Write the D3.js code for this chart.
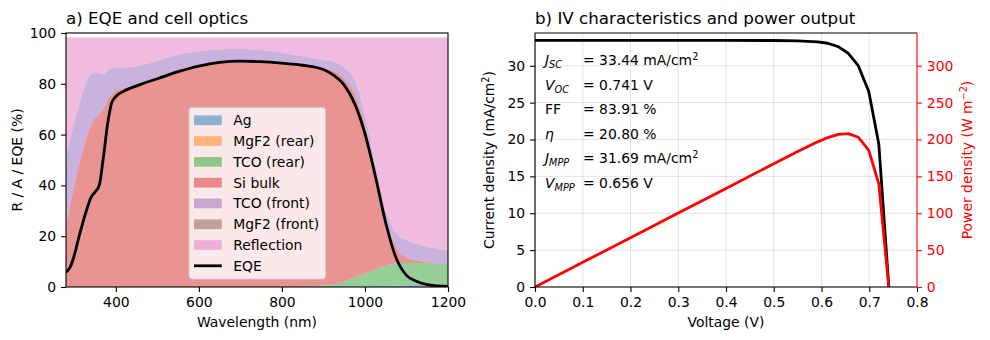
<!DOCTYPE html>
<html>
<head>
<meta charset="utf-8">
<script src="https://cdn.jsdelivr.net/npm/d3@7"></script>
<style>
  body { margin: 0; background: #fff; }
  svg { font-family: "DejaVu Sans", sans-serif; }
</style>
</head>
<body>
<svg id="chart" width="990" height="340"></svg>
<script>
// --- Panel a: absorption per layer (%) ---
const wavelength = [280, 290, 300, 310, 320, 330, 340, 350, 360, 370, 380, 390, 400, 420, 440, 460,
  500, 550, 600, 650, 700, 750, 800, 850, 900, 925, 950, 975, 1000, 1025, 1050, 1075, 1100, 1125, 1150, 1175, 1200];
const ag = [0, 0, 0, 0, 0, 0, 0, 0, 0, 0, 0, 0, 0, 0, 0, 0,
  0, 0, 0, 0, 0, 0, 0, 0, 0.05, 0.1, 0.15, 0.2, 0.3, 0.4, 0.5, 0.6, 0.7, 0.8, 0.8, 0.9, 0.9];
const mgf2Rear = [0, 0, 0, 0, 0, 0, 0, 0, 0, 0, 0, 0, 0, 0, 0, 0,
  0, 0, 0, 0, 0, 0, 0, 0, 0, 0, 0, 0, 0, 0, 0, 0, 0, 0, 0, 0, 0];
const tcoRear = [0, 0, 0, 0, 0, 0, 0, 0, 0, 0, 0, 0, 0, 0, 0, 0,
  0, 0, 0, 0, 0, 0, 0.02, 0.1, 0.55, 1.1, 2.15, 3.6, 5.0, 6.6, 7.9, 8.7, 8.7, 8.6, 8.5, 8.3, 8.2];
const siBulk = [23.6, 32, 40, 47, 53.5, 59, 63.5, 66.5, 68, 70, 73.5, 76, 77.3, 78.3, 79.2, 80.3,
  82.3, 85, 87.1, 88.5, 89, 88.8, 88.2, 87.4, 85.6, 83.8, 79.7, 72.2, 58.2, 38.5, 19.1, 6.2, 2.1, 1.0, 0.4, 0.1, 0];
const tcoFront = [27.4, 26, 25, 23.5, 23, 22, 20, 17.8, 16.1, 13.7, 11.7, 10.1, 9, 8.1, 7.4, 7,
  6.7, 6.5, 5.7, 5.1, 4.8, 4.4, 4.0, 3.3, 3.1, 3.7, 4.3, 5.5, 4.1, 2.3, 2.7, 5.7, 7.0, 6.5, 6.1, 5.7, 5.3];
const mgf2Front = [0, 0, 0, 0, 0, 0, 0, 0, 0, 0, 0, 0, 0, 0, 0, 0,
  0, 0, 0, 0, 0, 0, 0, 0, 0, 0, 0, 0, 0, 0, 0, 0, 0, 0, 0, 0, 0];
const reflection = [47.2, 40.2, 33.2, 27.7, 21.7, 17.2, 14.7, 13.9, 14.1, 14.5, 13, 12.1, 11.9, 11.8, 11.6, 10.9,
  9.2, 6.7, 5.4, 4.6, 4.4, 5, 6, 7.4, 8.9, 9.5, 11.9, 16.7, 30.6, 50.4, 68, 77, 79.7, 81.3, 82.4, 83.2, 83.8];
const eqe = [5.9, 7.8, 12.5, 19, 25, 30.5, 35.2, 37.4, 40, 51, 64, 72.5, 75, 77.2, 78.6, 79.8,
  82, 84.8, 87, 88.4, 88.9, 88.7, 88.1, 87.3, 85.6, 83.3, 79.5, 72.3, 60.4, 43.7, 25.3, 11.4, 4.6, 2.2, 0.9, 0.4, 0.2];

const layerNames = ["Ag", "MgF2 (rear)", "TCO (rear)", "Si bulk", "TCO (front)", "MgF2 (front)", "Reflection"];
const layerColors = ["#1f77b4", "#ff7f0e", "#2ca02c", "#d62728", "#9467bd", "#8c564b", "#e377c2"];
const wavelengthTicks = [400, 600, 800, 1000, 1200];
const percentTicks = [0, 20, 40, 60, 80, 100];

// --- Panel b: IV curve ---
const voltage = [0, 0.1, 0.2, 0.3, 0.4, 0.5, 0.55, 0.592, 0.613, 0.635, 0.656, 0.677, 0.699, 0.720, 0.741];
const currentDensity = [33.44, 33.44, 33.44, 33.44, 33.43, 33.42, 33.38, 33.25, 33.05, 32.6, 31.69, 30.0, 26.5, 19.4, 0];
const powerDensity = [0, 33.4, 66.9, 100.3, 133.7, 167.1, 183.6, 196.8, 202.6, 207.0, 207.9, 203.1, 185.2, 139.7, 0];
const voltageTicks = [0, 0.1, 0.2, 0.3, 0.4, 0.5, 0.6, 0.7, 0.8];
const currentTicks = [0, 5, 10, 15, 20, 25, 30];
const powerTicks = [0, 50, 100, 150, 200, 250, 300];

const metricSymbols = ["J", "V", "FF", "η", "J", "V"];
const metricSubs = ["SC", "OC", "", "", "MPP", "MPP"];
const metricValues = ["= 33.44 mA/cm", "= 0.741 V", "= 83.91 %", "= 20.80 %", "= 31.69 mA/cm", "= 0.656 V"];
const metricSups = ["2", "", "", "", "2", ""];

// --- Shared styling ---
const FONT = "'DejaVu Sans', sans-serif";
const TICK_FS = 13.9;
const TITLE_FS = 16.7;
const TICK_LEN = 4.9;
const svg = d3.select("#chart");

function styleAxis(g, color) {
    g.select(".domain").remove();
    g.attr("font-size", TICK_FS).attr("font-family", FONT);
    g.selectAll("text").attr("fill", color);
    g.selectAll("line").attr("stroke", color).attr("stroke-width", 1.1);
}

// ================= Panel a =================
const boxA = { left: 66, right: 448, top: 33, bottom: 287 };
const xA = d3.scaleLinear().domain([280, 1200]).range([boxA.left, boxA.right]);
const yA = d3.scaleLinear().domain([0, 100]).range([boxA.bottom, boxA.top]);

svg.append("clipPath").attr("id", "clipA").append("rect")
    .attr("x", boxA.left).attr("y", boxA.top)
    .attr("width", boxA.right - boxA.left).attr("height", boxA.bottom - boxA.top);

const layerArrays = [ag, mgf2Rear, tcoRear, siBulk, tcoFront, mgf2Front, reflection];
const rowsA = wavelength.map((w, i) => {
    const r = { w: w };
    layerNames.forEach((name, k) => { r[name] = layerArrays[k][i]; });
    return r;
});
const stacked = d3.stack().keys(layerNames)(rowsA);

const areaA = d3.area()
    .x(d => xA(d.data.w))
    .y0(d => yA(d[0]))
    .y1(d => yA(d[1]))
    .curve(d3.curveMonotoneX);

const plotA = svg.append("g").attr("clip-path", "url(#clipA)");
plotA.selectAll("path.layer")
    .data(stacked)
    .enter()
    .append("path")
    .attr("class", "layer")
    .attr("d", areaA)
    .attr("fill", (d, i) => layerColors[i])
    .attr("fill-opacity", 0.5);

const eqeLine = d3.line()
    .x((d, i) => xA(wavelength[i]))
    .y(d => yA(d))
    .curve(d3.curveMonotoneX);

plotA.append("path")
    .datum(eqe)
    .attr("d", eqeLine)
    .attr("fill", "none")
    .attr("stroke", "#000")
    .attr("stroke-width", 2.8);

// axes a
const gxA = svg.append("g").attr("transform", `translate(0,${boxA.bottom})`)
    .call(d3.axisBottom(xA).tickValues(wavelengthTicks).tickFormat(d3.format("d")).tickSize(TICK_LEN).tickPadding(4.9));
styleAxis(gxA, "#000");
const gyA = svg.append("g").attr("transform", `translate(${boxA.left},0)`)
    .call(d3.axisLeft(yA).tickValues(percentTicks).tickFormat(d3.format("d")).tickSize(TICK_LEN).tickPadding(4.9));
styleAxis(gyA, "#000");

svg.append("rect")
    .attr("x", boxA.left).attr("y", boxA.top)
    .attr("width", boxA.right - boxA.left).attr("height", boxA.bottom - boxA.top)
    .attr("fill", "none").attr("stroke", "#000").attr("stroke-width", 1.1);

svg.append("text").attr("x", boxA.left).attr("y", 24)
    .attr("font-size", TITLE_FS).attr("font-family", FONT)
    .text("a) EQE and cell optics");
svg.append("text").attr("x", (boxA.left + boxA.right) / 2).attr("y", 327)
    .attr("text-anchor", "middle").attr("font-size", TICK_FS).attr("font-family", FONT)
    .text("Wavelength (nm)");
svg.append("text")
    .attr("transform", `translate(22,${(boxA.top + boxA.bottom) / 2}) rotate(-90)`)
    .attr("text-anchor", "middle").attr("font-size", TICK_FS).attr("font-family", FONT)
    .text("R / A / EQE (%)");

// legend
const legend = svg.append("g").attr("transform", "translate(189,107.5)");
legend.append("rect")
    .attr("width", 136.5).attr("height", 171.5).attr("rx", 3)
    .attr("fill", "#fff").attr("fill-opacity", 0.8)
    .attr("stroke", "#cccccc").attr("stroke-width", 1);
const legendItems = layerNames.concat(["EQE"]);
legendItems.forEach((name, i) => {
    const cy = 12.7 + i * 20.8;
    if (i < layerNames.length) {
        legend.append("rect")
            .attr("x", 5).attr("y", cy - 4.8)
            .attr("width", 27.8).attr("height", 9.7)
            .attr("fill", layerColors[i]).attr("fill-opacity", 0.5);
    } else {
        legend.append("line")
            .attr("x1", 5).attr("x2", 32.8).attr("y1", cy).attr("y2", cy)
            .attr("stroke", "#000").attr("stroke-width", 2.8);
    }
    legend.append("text")
        .attr("x", 44.3).attr("y", cy).attr("dy", "0.36em")
        .attr("font-size", TICK_FS).attr("font-family", FONT)
        .text(name);
});

// ================= Panel b =================
const boxB = { left: 535, right: 917, top: 33, bottom: 287 };
const xB = d3.scaleLinear().domain([0, 0.8]).range([boxB.left, boxB.right]);
const yJ = d3.scaleLinear().domain([0, 34.44]).range([boxB.bottom, boxB.top]);
const yP = d3.scaleLinear().domain([0, 344.4]).range([boxB.bottom, boxB.top]);

svg.append("clipPath").attr("id", "clipB").append("rect")
    .attr("x", boxB.left).attr("y", boxB.top)
    .attr("width", boxB.right - boxB.left).attr("height", boxB.bottom - boxB.top);

// grid
const grid = svg.append("g");
grid.selectAll("line.vg").data(voltageTicks).enter().append("line")
    .attr("x1", d => xB(d)).attr("x2", d => xB(d))
    .attr("y1", boxB.top).attr("y2", boxB.bottom)
    .attr("stroke", "#b0b0b0").attr("stroke-opacity", 0.45).attr("stroke-width", 0.8);
grid.selectAll("line.hg").data(currentTicks).enter().append("line")
    .attr("x1", boxB.left).attr("x2", boxB.right)
    .attr("y1", d => yJ(d)).attr("y2", d => yJ(d))
    .attr("stroke", "#b0b0b0").attr("stroke-opacity", 0.45).attr("stroke-width", 0.8);

const plotB = svg.append("g").attr("clip-path", "url(#clipB)");
plotB.append("path")
    .datum(currentDensity)
    .attr("d", d3.line().x((d, i) => xB(voltage[i])).y(d => yJ(d)))
    .attr("fill", "none").attr("stroke", "#000").attr("stroke-width", 2.8)
    .attr("stroke-linejoin", "round");
plotB.append("path")
    .datum(powerDensity)
    .attr("d", d3.line().x((d, i) => xB(voltage[i])).y(d => yP(d)))
    .attr("fill", "none").attr("stroke", "#ff0000").attr("stroke-width", 2.8)
    .attr("stroke-linejoin", "round");

// metrics text
metricSymbols.forEach((sym, i) => {
    const y = 65 + i * 24.55;
    const t = svg.append("text").attr("x", 545).attr("y", y)
        .attr("font-size", TICK_FS).attr("font-family", FONT);
    t.append("tspan").attr("font-style", sym === "FF" ? "normal" : "italic").text(sym);
    if (metricSubs[i]) {
        t.append("tspan").attr("font-style", "italic").attr("font-size", TICK_FS * 0.7)
            .attr("dy", 3).text(metricSubs[i]);
    }
    const v = svg.append("text").attr("x", 583).attr("y", y)
        .attr("font-size", TICK_FS).attr("font-family", FONT);
    v.append("tspan").text(metricValues[i]);
    if (metricSups[i]) {
        v.append("tspan").attr("font-size", TICK_FS * 0.7).attr("dy", -5.5).text(metricSups[i]);
    }
});

// axes b
const gxB = svg.append("g").attr("transform", `translate(0,${boxB.bottom})`)
    .call(d3.axisBottom(xB).tickValues(voltageTicks).tickFormat(d3.format(".1f")).tickSize(TICK_LEN).tickPadding(4.9));
styleAxis(gxB, "#000");
const gyB = svg.append("g").attr("transform", `translate(${boxB.left},0)`)
    .call(d3.axisLeft(yJ).tickValues(currentTicks).tickFormat(d3.format("d")).tickSize(TICK_LEN).tickPadding(4.9));
styleAxis(gyB, "#000");
const gyP = svg.append("g").attr("transform", `translate(${boxB.right},0)`)
    .call(d3.axisRight(yP).tickValues(powerTicks).tickFormat(d3.format("d")).tickSize(TICK_LEN).tickPadding(4.9));
styleAxis(gyP, "#ff0000");

const spines = svg.append("g").attr("fill", "none").attr("stroke-width", 1.1);
spines.append("path")
    .attr("d", `M${boxB.right},${boxB.top}H${boxB.left}V${boxB.bottom}H${boxB.right}`)
    .attr("stroke", "#000");
spines.append("line")
    .attr("x1", boxB.right).attr("x2", boxB.right).attr("y1", boxB.top).attr("y2", boxB.bottom)
    .attr("stroke", "#ff0000");

svg.append("text").attr("x", boxB.left).attr("y", 24)
    .attr("font-size", TITLE_FS).attr("font-family", FONT)
    .text("b) IV characteristics and power output");
svg.append("text").attr("x", (boxB.left + boxB.right) / 2).attr("y", 327)
    .attr("text-anchor", "middle").attr("font-size", TICK_FS).attr("font-family", FONT)
    .text("Voltage (V)");

const jLabel = svg.append("text")
    .attr("transform", `translate(494,${(boxB.top + boxB.bottom) / 2}) rotate(-90)`)
    .attr("text-anchor", "middle").attr("font-size", TICK_FS).attr("font-family", FONT);
jLabel.append("tspan").text("Current density (mA/cm");
jLabel.append("tspan").attr("font-size", TICK_FS * 0.7).attr("dy", -5.5).text("2");
jLabel.append("tspan").attr("dy", 5.5).text(")");

const pLabel = svg.append("text")
    .attr("transform", `translate(972,${(boxB.top + boxB.bottom) / 2}) rotate(-90)`)
    .attr("text-anchor", "middle").attr("font-size", TICK_FS).attr("font-family", FONT)
    .attr("fill", "#ff0000");
pLabel.append("tspan").text("Power density (W m");
pLabel.append("tspan").attr("font-size", TICK_FS * 0.7).attr("dy", -5.5).text("−2");
pLabel.append("tspan").attr("dy", 5.5).text(")");
</script>
</body>
</html>
